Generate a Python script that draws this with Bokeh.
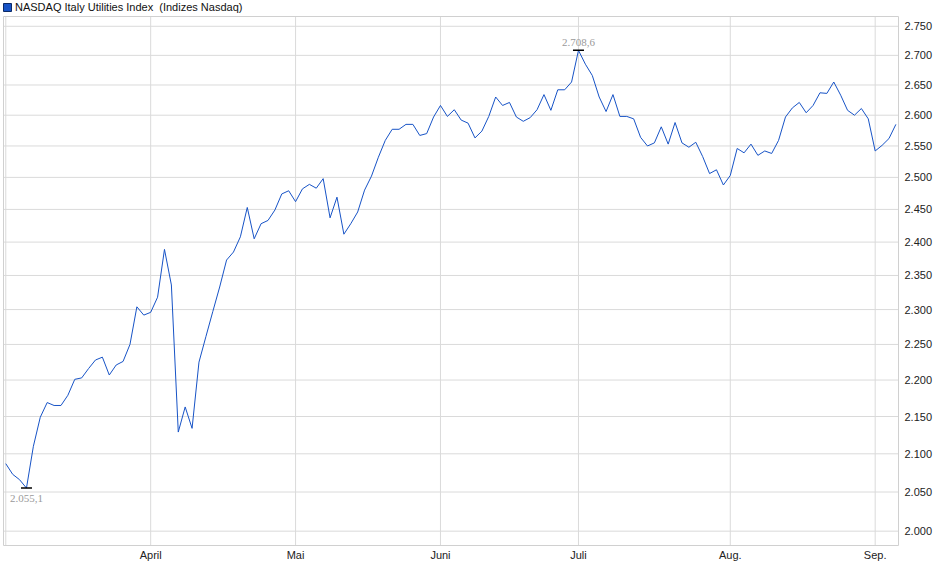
import math

from bokeh.plotting import figure
from bokeh.models import (ColumnDataSource, Range1d, FixedTicker, LabelSet,
                          Legend, LegendItem)
from bokeh.core.properties import value
from bokeh.embed import file_html
from bokeh.resources import INLINE

# index level per trading day (points)
kurs = [
    2087, 2073, 2066, 2055.1, 2110, 2149, 2169, 2165, 2165, 2179,
    2201, 2203, 2216, 2228, 2232, 2207, 2221, 2226, 2250, 2304,
    2292, 2296, 2318, 2389, 2336, 2129, 2163, 2134, 2225, 2261,
    2297, 2333, 2373, 2385, 2408, 2453, 2405, 2428, 2433, 2449,
    2474, 2479, 2462, 2482, 2489, 2483, 2498, 2437, 2469, 2412,
    2428, 2446, 2480, 2502, 2532, 2559, 2577, 2577, 2585, 2585,
    2567, 2570, 2597, 2616, 2598, 2609, 2592, 2587, 2563, 2574,
    2598, 2630, 2616, 2621, 2597, 2590, 2596, 2609, 2634, 2608,
    2642, 2642, 2655, 2708.6, 2685, 2666, 2630, 2606, 2634, 2598,
    2598, 2594, 2564, 2550, 2555, 2581, 2553, 2588, 2555, 2548,
    2556, 2533, 2506, 2512, 2488, 2503, 2546, 2539, 2553, 2535,
    2542, 2538, 2559, 2597, 2612, 2621, 2604, 2616, 2637, 2636,
    2655, 2633, 2608, 2600, 2611, 2594, 2542, 2551, 2562, 2585,
]
tage = list(range(len(kurs)))

# month starts (trading day index) and their labels
monat_pos = [0, 21, 42, 63, 83, 105, 126]
monat_txt = ["", "April", "Mai", "Juni", "Juli", "Aug.", "Sep."]

y_ticks = list(range(2000, 2751, 50))

FONT = "Liberation Sans"
BLAU = "#1753c6"
GRID = "#dadada"

# chart box (the legend sits in a strip above it, inside the frame)
X_L, X_R = -0.33, len(kurs) - 1 + 0.38
Y_U, Y_O = 1982, 2767
PX_LN = 1586          # pixels per ln-unit on the log axis
PX_X = 6.9            # pixels per trading day
FRAME_H = 546


def de_zahl(v, nachkomma=0):
    s = f"{v:,.{nachkomma}f}"
    return s.replace(",", "#").replace(".", ",").replace("#", ".")


p = figure(
    width=940, height=FRAME_H + 17,
    y_axis_type="log", y_axis_location="right",
    x_range=Range1d(X_L - 3 / PX_X, X_R + 2 / PX_X),
    y_range=Range1d(Y_U * math.exp(-1 / PX_LN), Y_O * math.exp(16 / PX_LN)),
    toolbar_location=None, output_backend="svg",
    min_border_left=0, min_border_right=40,
    min_border_top=0, min_border_bottom=17,
)
p.outline_line_color = None
p.background_fill_color = "white"
p.grid.visible = False

# grid and box drawn as segments so they stop at the chart box
p.segment(x0=monat_pos, y0=[Y_U] * len(monat_pos), x1=monat_pos, y1=[Y_O] * len(monat_pos),
          line_color=GRID, line_width=1)
p.segment(x0=[X_L] * len(y_ticks), y0=y_ticks, x1=[X_R] * len(y_ticks), y1=y_ticks,
          line_color=GRID, line_width=1)
p.segment(x0=[X_L, X_R, X_L, X_L], y0=[Y_U, Y_U, Y_U, Y_O],
          x1=[X_L, X_R, X_R, X_R], y1=[Y_O, Y_O, Y_U, Y_O],
          line_color="#d0d0d0", line_width=1)

p.line(tage, kurs, line_color=BLAU, line_width=1)

# min / max markers
i_min = kurs.index(min(kurs))
i_max = kurs.index(max(kurs))
extrem = ColumnDataSource(data=dict(x=[i_min, i_max], y=[kurs[i_min], kurs[i_max]]))
p.scatter("x", "y", source=extrem, marker="dash", size=11,
          line_color="black", line_width=1.5)
src_min = ColumnDataSource(data=dict(x=[i_min], y=[kurs[i_min]],
                                     txt=[de_zahl(kurs[i_min], 1)]))
src_max = ColumnDataSource(data=dict(x=[i_max], y=[kurs[i_max]],
                                     txt=[de_zahl(kurs[i_max], 1)]))
p.add_layout(LabelSet(x="x", y="y", text="txt", source=src_min,
                      text_align="center", text_baseline="top", y_offset=-7,
                      text_font=FONT, text_font_size="11px",
                      text_color="#9a9a9a"))
p.add_layout(LabelSet(x="x", y="y", text="txt", source=src_max,
                      text_align="center", text_baseline="bottom", y_offset=4,
                      text_font=FONT, text_font_size="11px",
                      text_color="#9a9a9a"))

# axes
p.xaxis.ticker = FixedTicker(ticks=monat_pos)
p.xaxis.major_label_overrides = {k: t for k, t in zip(monat_pos, monat_txt)}
p.yaxis.ticker = FixedTicker(ticks=y_ticks)
p.yaxis.major_label_overrides = {k: de_zahl(k) for k in y_ticks}
for ax in (p.xaxis, p.yaxis):
    ax.axis_line_color = None
    ax.major_tick_line_color = None
    ax.minor_tick_line_color = None
    ax.major_tick_out = 0
    ax.major_tick_in = 0
    ax.major_label_text_font = FONT
    ax.major_label_text_font_size = "11px"
    ax.major_label_text_color = "#222222"
p.xaxis.major_label_standoff = 2
p.yaxis.major_label_standoff = 4

# legend in the strip above the box, square marker from a hidden renderer
zeichen = p.quad(left=tage[:1], right=tage[1:2], bottom=kurs[1:2], top=kurs[:1],
                 fill_color=BLAU, line_color="#0c2a66", visible=False)
leg = Legend(items=[LegendItem(label=value("NASDAQ Italy Utilities Index  (Indizes Nasdaq)"),
                               renderers=[zeichen])],
             location=(2, FRAME_H - 13), orientation="horizontal",
             border_line_alpha=0, background_fill_alpha=0,
             inactive_fill_alpha=0,
             padding=0, margin=0, spacing=0,
             glyph_width=10, glyph_height=10, label_standoff=3,
             label_height=10, label_text_font=FONT,
             label_text_font_size="11px", label_text_color="#111111",
             click_policy="none")
p.add_layout(leg)

open("out.html", "w").write(file_html(p, INLINE))
